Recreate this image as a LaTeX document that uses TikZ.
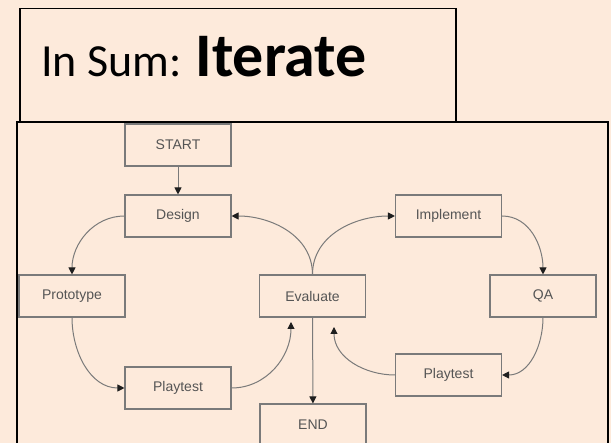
\documentclass[tikz,border=0pt]{standalone}
\usepackage{fontspec}
\setmainfont{Carlito}
\newfontfamily\boxfont{Liberation Sans}
\usetikzlibrary{arrows.meta}
\definecolor{peach}{HTML}{FDEADB}
\definecolor{boxgray}{HTML}{7A7A7A}
\definecolor{textgray}{HTML}{555555}
\definecolor{tipgray}{HTML}{1E1E1E}

\begin{document}
\begin{tikzpicture}[x=1pt, y=1pt,
    stage/.style={draw=boxgray, line width=1.1pt, minimum width=106pt, minimum height=42pt, inner sep=0pt, text=textgray, font=\boxfont\fontsize{14}{16}\selectfont},
    flow/.style={draw=boxgray, line width=1pt, -{Triangle[length=7pt, width=7pt, color=tipgray]}}]

    \useasboundingbox (0,0) rectangle (611,-443);
    \fill[peach] (0,0) rectangle (611,-443);
    \clip (0,0) rectangle (611,-443);

    % title and frame
    \node[draw, line width=1.5pt, minimum width=436pt, minimum height=114pt, inner sep=0pt, anchor=north west] (titlebox) at (19,-8) {};
    \node[anchor=base west, inner sep=0pt] (title) at (41,-77) {{\fontsize{46}{50}\selectfont In Sum: }{\fontsize{62}{66}\selectfont\bfseries Iterate}};
    \draw[line width=2pt] (17,-450) -- (17,-122) -- (608,-122) -- (608,-450);

    \node[stage] (start) at (178,-145) {START};
    \node[stage] (design) at (178,-216) {Design};
    \node[stage] (proto) at (72,-296) {Prototype};
    \node[stage] (eval) at (312.5,-296) {Evaluate};
    \node[stage] (impl) at (448.5,-216) {Implement};
    \node[stage] (qa) at (543,-296) {QA};
    \node[stage] (play1) at (178,-388) {Playtest};
    \node[stage] (play2) at (448.5,-375) {Playtest};
    \node[stage] (end) at (313,-425) {END};

    \coordinate (evalL) at (291,-322);
    \coordinate (evalR) at (334,-327);

    \path
        (start) edge[flow] (design)
        (design.west) edge[flow, out=180, in=90] (proto.north)
        (proto.south) edge[flow, out=-90, in=180] (play1.west)
        (play1.east) edge[flow, out=0, in=-90] (evalL)
        (eval.north) edge[flow, out=90, in=0] (design.east)
        (eval.north) edge[flow, out=90, in=180] (impl.west)
        (impl.east) edge[flow, out=0, in=90] (qa.north)
        (qa.south) edge[flow, out=-90, in=0] (play2.east)
        (play2.west) edge[flow, out=180, in=-90] (evalR)
        (eval) edge[flow] (end)
        ;
\end{tikzpicture}
\end{document}
